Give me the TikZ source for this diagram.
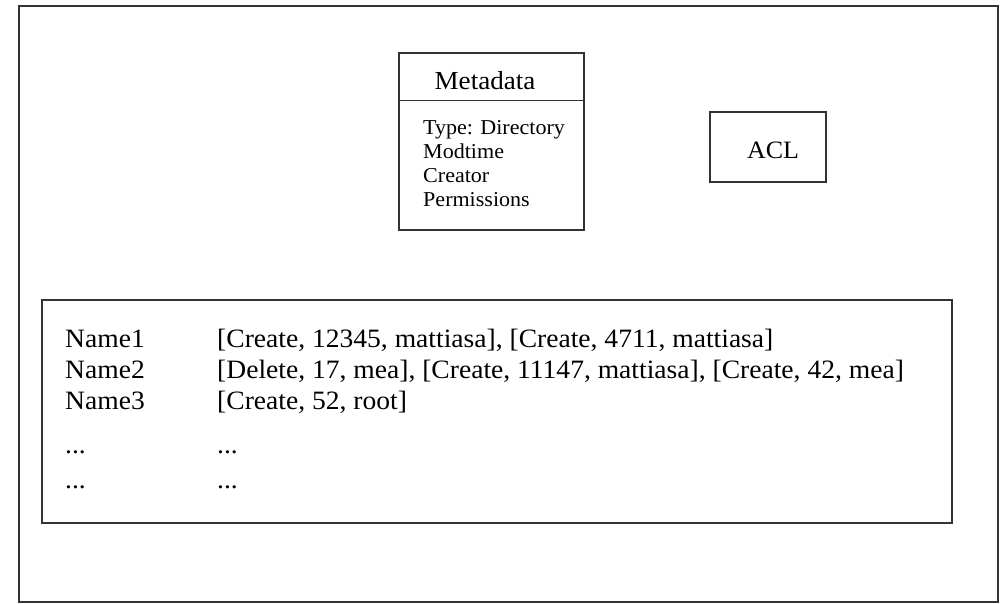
\documentclass[tikz,border=0pt]{standalone}
\usepackage{fontspec}
\setmainfont{Liberation Serif}[FakeStretch=1.04]
\usetikzlibrary{positioning}

\begin{document}
\begin{tikzpicture}[x=1pt, y=-1pt]
    \tikzstyle{panel} = [rectangle, draw=black!80, line width=1.1pt, inner sep=0pt]
    \tikzstyle{rowtext} = [inner sep=0pt, anchor=base west, font=\fontsize{26.5}{31}\selectfont]
    \tikzstyle{metaitem} = [inner sep=0pt, anchor=base west, font=\fontsize{21.2}{24}\selectfont]

    \useasboundingbox (0,0) rectangle (1007,603);

    \node[panel, minimum width=979pt, minimum height=596pt] (outer) at (508.5,304) {};

    % metadata box
    \node[panel, minimum width=185pt, minimum height=177pt] (meta) at (491.5,141.5) {};
    \draw[black!80, line width=1.1pt] ([yshift=-48pt]meta.north west) -- ([yshift=-48pt]meta.north east);
    \node[inner sep=0pt, anchor=base, font=\fontsize{26}{30}\selectfont] (metatitle) at (485,89.5) {Metadata};
    \node[metaitem] (mtype) at (423,134) {Type: Directory};
    \node[metaitem] (mmodtime) at (423,158) {Modtime};
    \node[metaitem] (mcreator) at (423,182) {Creator};
    \node[metaitem] (mperm) at (423,206) {Permissions};

    % acl box
    \node[panel, minimum width=116pt, minimum height=70pt] (acl) at (768,147) {};
    \node[inner sep=0pt, anchor=base, font=\fontsize{25}{28}\selectfont] (acltext) at (773,158) {ACL};

    % name table
    \node[panel, minimum width=910pt, minimum height=223pt] (table) at (497,411.5) {};
    \node[rowtext] (name1) at (65,347) {Name1};
    \node[rowtext] (name2) at (65,378) {Name2};
    \node[rowtext] (name3) at (65,409) {Name3};
    \node[rowtext] (name4) at (65,453) {...};
    \node[rowtext] (name5) at (65,488) {...};
    \node[rowtext] (entry1) at (217,347) {[Create, 12345, mattiasa], [Create, 4711, mattiasa]};
    \node[rowtext] (entry2) at (217,378) {[Delete, 17, mea], [Create, 11147, mattiasa], [Create, 42, mea]};
    \node[rowtext] (entry3) at (217,409) {[Create, 52, root]};
    \node[rowtext] (entry4) at (217,453) {...};
    \node[rowtext] (entry5) at (217,488) {...};
\end{tikzpicture}
\end{document}
